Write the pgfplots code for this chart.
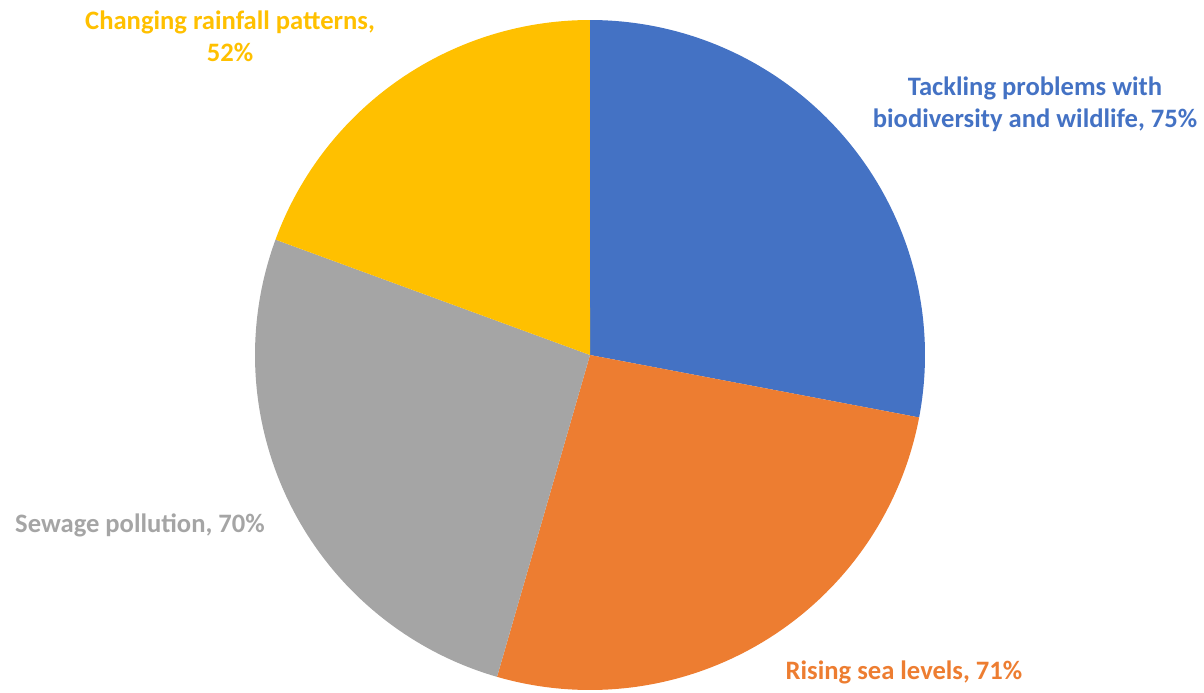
\documentclass[border=0pt]{standalone}
\usepackage{pgfplots}
\pgfplotsset{compat=1.18}
\usepackage{fontspec}
\setmainfont{Carlito}
\definecolor{cblue}{HTML}{4472C4}
\definecolor{corange}{HTML}{ED7D31}
\definecolor{cgray}{HTML}{A5A5A5}
\definecolor{cyellow}{HTML}{FFC000}
% values
\def\vA{75}\def\vB{71}\def\vC{70}\def\vD{52}
\pgfmathsetmacro{\tot}{\vA+\vB+\vC+\vD}
\pgfmathsetmacro{\aA}{90}
\pgfmathsetmacro{\aB}{\aA-360*(\vA/\tot)}
\pgfmathsetmacro{\aC}{\aB-360*(\vB/\tot)}
\pgfmathsetmacro{\aD}{\aC-360*(\vC/\tot)}
\pgfmathsetmacro{\aE}{\aD-360*(\vD/\tot)}
\def\cx{590}\def\cy{337}\def\R{335}
\begin{document}
\begin{tikzpicture}
\begin{axis}[
  x=0.5pt, y=0.5pt,
  xmin=0, xmax=1204, ymin=0, ymax=692,
  hide axis, clip=false, scale only axis,
  every axis plot/.append style={draw=none, samples=120, variable=\t},
]
\path (axis cs:0,0) rectangle (axis cs:1204,692);
\addplot[fill=cblue, domain=\aB:\aA] ({\cx+\R*cos(\t)},{\cy+\R*sin(\t)}) -- (axis cs:\cx,\cy) -- cycle;
\addplot[fill=corange, domain=\aC:\aB] ({\cx+\R*cos(\t)},{\cy+\R*sin(\t)}) -- (axis cs:\cx,\cy) -- cycle;
\addplot[fill=cgray, domain=\aD:\aC] ({\cx+\R*cos(\t)},{\cy+\R*sin(\t)}) -- (axis cs:\cx,\cy) -- cycle;
\addplot[fill=cyellow, domain=\aE:\aD] ({\cx+\R*cos(\t)},{\cy+\R*sin(\t)}) -- (axis cs:\cx,\cy) -- cycle;
\begin{scope}[every node/.style={font=\bfseries\fontsize{13.3}{16}\selectfont, align=center, inner sep=0pt}]
\node[text=cblue] at (axis cs:1035,588) {Tackling problems with\\biodiversity and wildlife, 75\%};
\node[text=corange] at (axis cs:904,20) {Rising sea levels, 71\%};
\node[text=cgray] at (axis cs:140,167) {Sewage pollution, 70\%};
\node[text=cyellow] at (axis cs:230,656) {Changing rainfall patterns,\\52\%};
\end{scope}
\end{axis}
\end{tikzpicture}
\end{document}
